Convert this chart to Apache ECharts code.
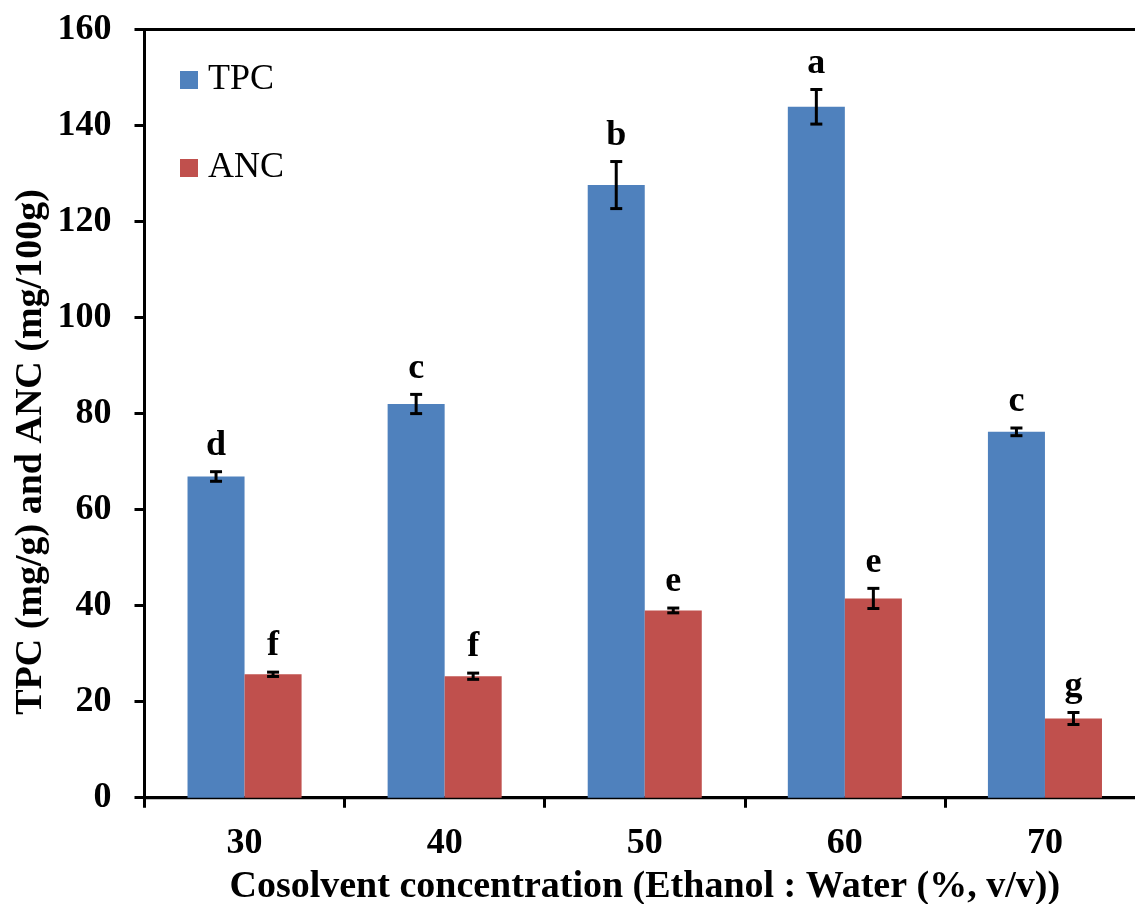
<!DOCTYPE html>
<html>
<head>
<meta charset="utf-8">
<script src="https://cdn.jsdelivr.net/npm/echarts@6/dist/echarts.min.js"></script>
<style>
  html, body { margin: 0; padding: 0; background: #fff; }
  #chart { width: 1135px; height: 904px; }
</style>
</head>
<body>
<div id="chart"></div>
<script>
// Extraction conditions (ethanol share of the cosolvent, %)
const categories = ['30', '40', '50', '60', '70'];

// Total phenolic content, mg/g, with standard deviations
const tpcValues = [66.9, 82.0, 127.6, 143.9, 76.2];
const tpcErrors = [1.0, 2.0, 4.9, 3.6, 0.8];
const tpcLetters = ['d', 'c', 'b', 'a', 'c'];

// Anthocyanin content, mg/100g, with standard deviations
const ancValues = [25.7, 25.3, 39.0, 41.5, 16.5];
const ancErrors = [0.45, 0.65, 0.5, 2.1, 1.25];
const ancLetters = ['f', 'f', 'e', 'e', 'g'];

const yTicks = { min: 0, max: 160, interval: 20 };
const yTitle = 'TPC (mg/g) and ANC (mg/100g)';
const xTitle = 'Cosolvent concentration (Ethanol : Water (%, v/v))';

const FONT = "'Liberation Serif', 'Times New Roman', serif";
const CAT_GAP = 0.43;      // share of a category left empty between groups
const BLUE = '#4F81BD';
const RED = '#C0504D';

// Error bar with its significance letter, placed over bar `side` (-1 left, +1 right)
function errorRenderer(values, errors, letters, side) {
  return function (params, api) {
    const i = api.value(0);
    const v = values[i];
    const e = errors[i];
    const band = api.size([1, 0])[0];
    const barW = band * (1 - CAT_GAP) / 2;
    const c = api.coord([i, v]);
    const x = c[0] + side * barW / 2;
    const yHi = api.coord([i, v + e])[1];
    const yLo = api.coord([i, v - e])[1];
    const cap = 6;
    const st = { stroke: '#000', lineWidth: 3 };
    return {
      type: 'group',
      children: [
        { type: 'line', shape: { x1: x, y1: yHi, x2: x, y2: yLo }, style: st },
        { type: 'line', shape: { x1: x - cap, y1: yHi, x2: x + cap, y2: yHi }, style: st },
        { type: 'line', shape: { x1: x - cap, y1: yLo, x2: x + cap, y2: yLo }, style: st },
        {
          type: 'text',
          x: x,
          y: yHi - 8,
          style: {
            text: letters[i],
            font: 'bold 36px ' + FONT,
            fill: '#000',
            align: 'center',
            verticalAlign: 'bottom'
          }
        }
      ]
    };
  };
}

const chart = echarts.init(document.getElementById('chart'));
chart.setOption({
  animation: false,
  backgroundColor: '#fff',
  grid: {
    left: 144.5, top: 29.5, right: -10, bottom: 106.3,
    outerBoundsMode: 'none',
    containLabel: false,
    show: true, borderColor: '#000', borderWidth: 3, backgroundColor: 'transparent'
  },
  legend: {
    orient: 'vertical',
    left: 175, top: 57,
    itemWidth: 18, itemHeight: 18, itemGap: 52,
    icon: 'rect',
    data: ['TPC', 'ANC'],
    textStyle: { fontFamily: FONT, fontSize: 36, color: '#000', padding: [0, 0, 0, 5] }
  },
  // vertical axis title, placed a little below the plot's middle
  graphic: [{
    type: 'text',
    x: 31, y: 452,
    rotation: Math.PI / 2,
    style: {
      text: yTitle,
      font: 'bold 38px ' + FONT,
      fill: '#000',
      align: 'center',
      verticalAlign: 'middle'
    }
  }],
  xAxis: {
    type: 'category',
    data: categories,
    axisLine: { lineStyle: { color: '#000', width: 3 } },
    axisTick: { show: true, length: 10, lineStyle: { color: '#000', width: 3 } },
    axisLabel: { fontFamily: FONT, fontSize: 36, fontWeight: 'bold', color: '#000', margin: 28 },
    name: xTitle,
    nameLocation: 'middle',
    nameGap: 70,
    nameTextStyle: { fontFamily: FONT, fontSize: 38, fontWeight: 'bold', color: '#000' }
  },
  yAxis: {
    type: 'value',
    min: yTicks.min, max: yTicks.max, interval: yTicks.interval,
    splitLine: { show: false },
    axisLine: { show: true, lineStyle: { color: '#000', width: 3 } },
    axisTick: { show: true, length: 10, lineStyle: { color: '#000', width: 3 } },
    axisLabel: { fontFamily: FONT, fontSize: 36, fontWeight: 'bold', color: '#000', margin: 33 }
  },
  series: [
    {
      name: 'TPC', type: 'bar', data: tpcValues,
      barGap: '0%', barCategoryGap: (CAT_GAP * 100) + '%',
      itemStyle: { color: BLUE }
    },
    {
      name: 'ANC', type: 'bar', data: ancValues,
      itemStyle: { color: RED }
    },
    {
      type: 'custom', silent: true, z: 5,
      data: categories.map((c, i) => [i]),
      renderItem: errorRenderer(tpcValues, tpcErrors, tpcLetters, -1)
    },
    {
      type: 'custom', silent: true, z: 5,
      data: categories.map((c, i) => [i]),
      renderItem: errorRenderer(ancValues, ancErrors, ancLetters, 1)
    }
  ]
});
</script>
</body>
</html>
